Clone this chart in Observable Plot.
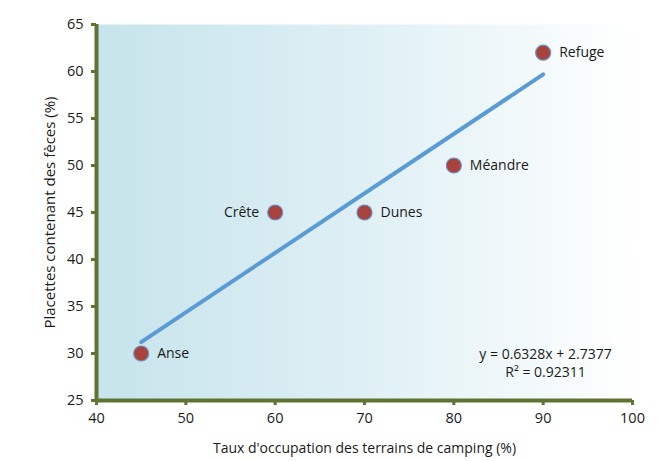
<!DOCTYPE html>
<html><head><meta charset="utf-8">
<script src="https://cdn.jsdelivr.net/npm/d3@7"></script>
<script src="https://cdn.jsdelivr.net/npm/@observablehq/plot@0.6"></script>
<style>body{margin:0;background:#fff;font-family:"Open Sans",sans-serif;}</style>
</head><body><div id="chart"></div>
<script>
const sites = ["Anse", "Crête", "Dunes", "Méandre", "Refuge"];
const occupation = [45, 60, 70, 80, 90];
const feces = [30, 45, 45, 50, 62];
const labelSide = ["right", "left", "right", "right", "right"];
const xTicks = [40, 50, 60, 70, 80, 90, 100];
const yTicks = [25, 30, 35, 40, 45, 50, 55, 60, 65];
const equation = ["y = 0.6328x + 2.7377", "R² = 0.92311"];

const data = sites.map((s, i) => ({site: s, x: occupation[i], y: feces[i], side: labelSide[i]}));
const axisColor = "#5f7433";

const plot = Plot.plot({
  width: 669, height: 461,
  marginLeft: 96, marginRight: 37, marginTop: 24, marginBottom: 61,
  style: {fontFamily: "'Open Sans', sans-serif", fontSize: "14px", color: "#1a1a1a", background: "transparent"},
  x: {domain: [40, 100], ticks: xTicks, label: null},
  y: {domain: [25, 65], ticks: yTicks, label: null},
  marks: [
    Plot.frame({fill: "url(#bgGrad)", stroke: null}),
    Plot.axisX({ticks: xTicks, tickSize: 5, tickPadding: 7, stroke: axisColor, strokeWidth: 3, fontSize: 14.5, fill: "#1a1a1a"}),
    Plot.axisY({ticks: yTicks, tickSize: 5, tickPadding: 8, stroke: axisColor, strokeWidth: 3, fontSize: 14.5, fill: "#1a1a1a", label: null}),
    Plot.axisX({ticks: [], label: "Taux d'occupation des terrains de camping (%)", labelAnchor: "center", labelArrow: "none", labelOffset: 52, fontSize: 14, fill: "#1a1a1a"}),
    Plot.axisY({ticks: [], label: "Placettes contenant des fèces (%)", labelAnchor: "center", labelArrow: "none", labelOffset: 52, fontSize: 15, fill: "#1a1a1a"}),
    Plot.ruleX([40], {stroke: axisColor, strokeWidth: 4}),
    Plot.ruleY([25], {stroke: axisColor, strokeWidth: 4}),
    Plot.linearRegressionY(data, {x: "x", y: "y", ci: 0, stroke: "#5b9bd5", strokeWidth: 4, strokeLinecap: "round"}),
    Plot.dot(data, {x: "x", y: "y", r: 7.5, fill: "#a8423d", stroke: "#6b8fc4", strokeWidth: 1.2}),
    Plot.text(data.filter(d => d.side === "right"), {x: "x", y: "y", text: "site", textAnchor: "start", dx: 16, fontSize: 14, fill: "#1a1a1a"}),
    Plot.text(data.filter(d => d.side === "left"), {x: "x", y: "y", text: "site", textAnchor: "end", dx: -16, fontSize: 14, fill: "#1a1a1a"}),
    Plot.text([equation.join("\n")], {frameAnchor: "bottom-right", dx: -87, dy: -24, textAnchor: "middle", lineHeight: 1.25, fontSize: 14, fill: "#1a1a1a"})
  ]
});

const ns = "http://www.w3.org/2000/svg";
const defs = document.createElementNS(ns, "defs");
defs.innerHTML = `<linearGradient id="bgGrad" x1="0" x2="1" y1="0" y2="0">
  <stop offset="0" stop-color="#c6e4eb"/>
  <stop offset="0.5" stop-color="#dff0f5"/>
  <stop offset="1" stop-color="#ffffff"/>
</linearGradient>`;
plot.insertBefore(defs, plot.firstChild);
document.getElementById("chart").appendChild(plot);
</script>
</body></html>
